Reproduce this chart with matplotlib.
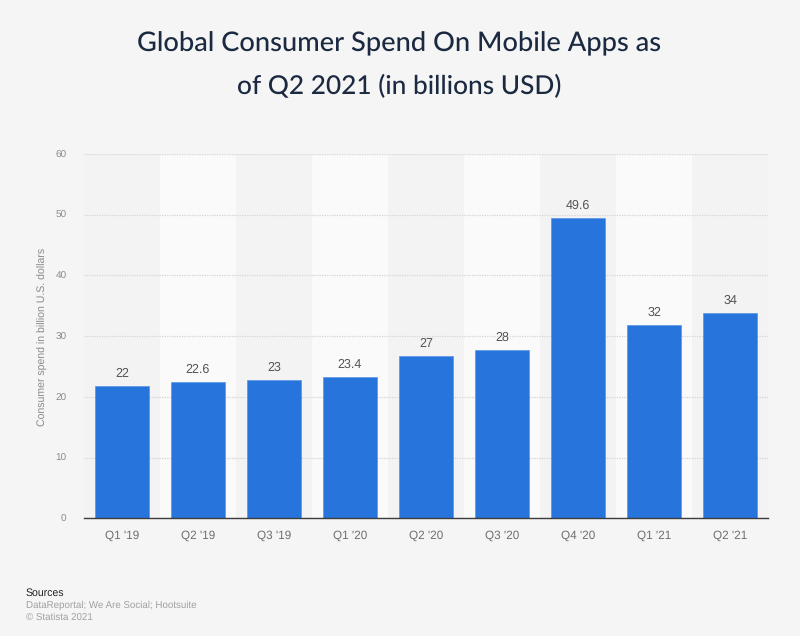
import matplotlib
matplotlib.use("Agg")
import matplotlib.pyplot as plt

# Values: bar heights as drawn, labels as printed
QUARTERS = ["Q1 '19", "Q2 '19", "Q3 '19", "Q1 '20", "Q2 '20", "Q3 '20", "Q4 '20", "Q1 '21", "Q2 '21"]
SPEND = [21.85, 22.4, 22.75, 23.25, 26.75, 27.8, 49.47, 31.85, 33.77]
SPEND_LABELS = ["22", "22.6", "23", "23.4", "27", "28", "49.6", "32", "34"]
Y_TICKS = [0, 10, 20, 30, 40, 50, 60]

BG = "#f5f5f5"
BLUE = "#2775dc"
W, H = 800, 636

plt.rcParams["font.family"] = ["Liberation Sans", "DejaVu Sans"]
plt.rcParams["text.hinting"] = "no_hinting"

fig = plt.figure(figsize=(W / 100, H / 100), dpi=100, facecolor=BG)
ax = fig.add_axes([84 / W, 1 - 518.3 / H, (768 - 84) / W, (518.3 - 154) / H], facecolor=BG)

xs = list(range(len(QUARTERS)))

# alternating column bands
for i in xs:
    ax.axvspan(i - 0.5, i + 0.5, color="#fafafa" if i % 2 else "#f3f3f3", lw=0, zorder=0)

ax.yaxis.grid(True, color="#d4d4d4", linestyle=(0, (1, 1)), linewidth=0.9, zorder=1)
ax.set_axisbelow(True)

ax.bar(xs, SPEND, width=0.7, color=BLUE, edgecolor="#4a8ce6", linewidth=0.4, zorder=2)

for x, v, s in zip(xs, SPEND, SPEND_LABELS):
    ax.annotate(s, (x, v), xytext=(0, 4.6), textcoords="offset points",
                ha="center", va="bottom", fontsize=9, color="#555555")

ax.set_xlim(-0.5, len(QUARTERS) - 0.5)
ax.set_ylim(0, 60)
ax.set_xticks(xs)
ax.set_xticklabels(QUARTERS, fontsize=8.5, color="#6f6f6f")
ax.set_yticks(Y_TICKS)
ax.set_yticklabels([str(t) for t in Y_TICKS], fontsize=7.2, color="#8a8a8a")
ax.tick_params(axis="x", length=0, pad=8.5)
ax.tick_params(axis="y", length=0, pad=12.5)

for side in ["top", "left", "right"]:
    ax.spines[side].set_visible(False)
ax.spines["bottom"].set_color("#3c3c3c")
ax.spines["bottom"].set_linewidth(1.0)

fig.text(43 / W, 1 - 336.5 / H, "Consumer spend in billion U.S. dollars", rotation=90,
         ha="center", va="center", fontsize=7.6, color="#8a8a8a")

# two line heading
TITLE_FONT = ["Lato", "DejaVu Sans"]
fig.text(399.5 / W, 1 - 44 / H, "Global Consumer Spend On Mobile Apps as", ha="center", va="center",
         fontsize=19.6, color="#1b2a41", family=TITLE_FONT, weight="medium")
fig.text(399.5 / W, 1 - 86.5 / H, "of Q2 2021 (in billions USD)", ha="center", va="center",
         fontsize=18.9, color="#1b2a41", family=TITLE_FONT, weight="medium")

fig.text(26 / W, 1 - 593 / H, "Sources", ha="left", va="center", fontsize=7.6, color="#222222")
fig.text(26 / W, 1 - 605.5 / H, "DataReportal; We Are Social; Hootsuite", ha="left", va="center",
         fontsize=7.05, color="#a0a0a0")
fig.text(26 / W, 1 - 617.5 / H, "© Statista 2021", ha="left", va="center", fontsize=7.05, color="#a0a0a0")

fig.savefig("out.png", dpi=100, facecolor=BG)
